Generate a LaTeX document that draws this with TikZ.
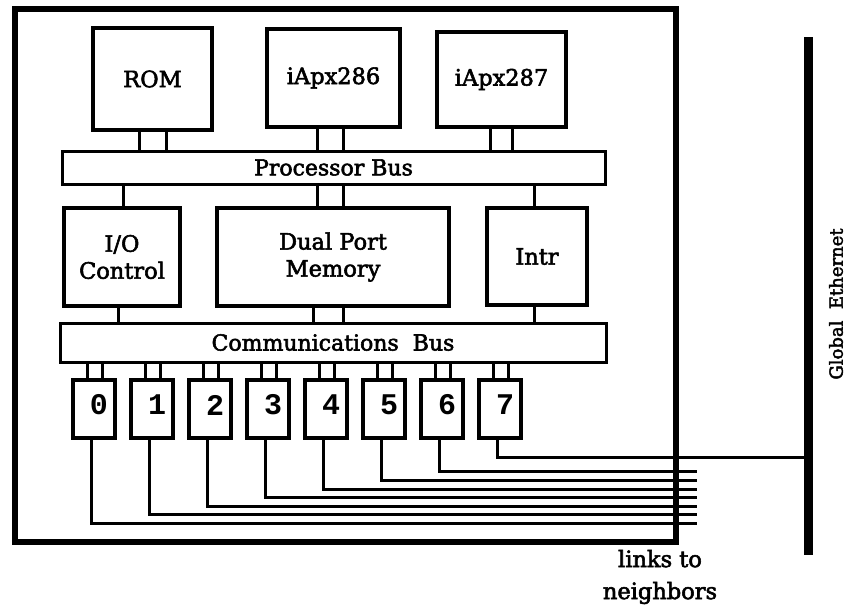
\documentclass[tikz,border=0pt]{standalone}
\usepackage{fontspec}
\setmainfont{DejaVu Serif}[UprightFeatures={FakeBold=2.5}]
\newfontfamily\digitfont{Liberation Mono}
\begin{document}
\begin{tikzpicture}[x=1pt,y=-1pt,
  blk/.style={draw,line width=4.5pt,inner sep=0pt,outer sep=0pt,align=center,font=\fontsize{22.5}{27}\selectfont},
  busbox/.style={draw,line width=3pt,inner sep=0pt,outer sep=0pt,font=\fontsize{22}{27}\selectfont},
  lnk/.style={draw,line width=3.5pt,minimum width=42pt,minimum height=58pt,inner sep=0pt,outer sep=0pt},
  num/.style={font=\digitfont\bfseries\fontsize{30}{30}\selectfont,inner sep=0pt},
  wire/.style={line width=3pt},
]
\useasboundingbox (0,0) rectangle (848,605);
% outer board
\node[draw,line width=5.5pt,minimum width=661pt,minimum height=533pt,inner sep=0pt,outer sep=0pt] (board) at (345.5,275.5) {};
% top row
\node[blk,minimum width=119pt,minimum height=102pt] (rom) at (152.5,79) {ROM};
\node[blk,minimum width=133pt,minimum height=98pt] (cpu) at (333.5,78) {iApx286};
\node[blk,minimum width=129pt,minimum height=95pt] (fpu) at (501.5,79.5) {iApx287};
% processor bus
\node[busbox,minimum width=543pt,minimum height=33pt] (pbus) at (333.5,167.5) {Processor Bus};
% middle row
\node[blk,minimum width=116pt,minimum height=98pt] (io) at (122,257) {I/O\\Control};
\node[blk,minimum width=232pt,minimum height=98pt] (dpm) at (333,257) {Dual Port\\Memory};
\node[blk,minimum width=100pt,minimum height=97pt] (intr) at (537,256.5) {Intr};
% communications bus
\node[busbox,minimum width=546pt,minimum height=39pt] (cbus) at (333,342.5) {Communications\ \ Bus};
% top row to processor bus
\draw[wire] ([xshift=-13pt]rom.south) -- ([xshift=-13pt]rom.south |- pbus.north);
\draw[wire] ([xshift=14pt]rom.south) -- ([xshift=14pt]rom.south |- pbus.north);
\draw[wire] ([xshift=-16pt]cpu.south) -- ([xshift=-16pt]cpu.south |- pbus.north);
\draw[wire] ([xshift=10pt]cpu.south) -- ([xshift=10pt]cpu.south |- pbus.north);
\draw[wire] ([xshift=-11pt]fpu.south) -- ([xshift=-11pt]fpu.south |- pbus.north);
\draw[wire] ([xshift=11pt]fpu.south) -- ([xshift=11pt]fpu.south |- pbus.north);
% processor bus to middle row
\draw[wire] ([xshift=1pt]io.north) -- ([xshift=1pt]io.north |- pbus.south);
\draw[wire] ([xshift=-16pt]dpm.north) -- ([xshift=-16pt]dpm.north |- pbus.south);
\draw[wire] ([xshift=10pt]dpm.north) -- ([xshift=10pt]dpm.north |- pbus.south);
\draw[wire] ([xshift=-3pt]intr.north) -- ([xshift=-3pt]intr.north |- pbus.south);
% middle row to communications bus
\draw[wire] ([xshift=-4pt]io.south) -- ([xshift=-4pt]io.south |- cbus.north);
\draw[wire] ([xshift=-20pt]dpm.south) -- ([xshift=-20pt]dpm.south |- cbus.north);
\draw[wire] ([xshift=10pt]dpm.south) -- ([xshift=10pt]dpm.south |- cbus.north);
\draw[wire] ([xshift=-3pt]intr.south) -- ([xshift=-3pt]intr.south |- cbus.north);
% link boxes
\foreach \i in {0,...,7}{
  \node[lnk] (l\i) at ({94+58*\i},409) {};
  \node[num] (n\i) at ([xshift=5pt,yshift=4pt]l\i.center) {\i};
  \draw[wire] ([xshift=-7pt]l\i.north) -- ([xshift=-7pt]l\i.north |- cbus.south);
  \draw[wire] ([xshift=8pt]l\i.north) -- ([xshift=8pt]l\i.north |- cbus.south);
}
% Ethernet
\coordinate (ethT) at (808,37);
\coordinate (ethB) at (808,555);
\draw[line width=9pt] (ethT) -- (ethB);
\node[rotate=90,font=\fontsize{18}{18}\selectfont,inner sep=0pt] (ethlbl) at (836,304) {Global\ \ Ethernet};
% links to neighbors
\foreach \i/\yy in {0/523,1/514,2/506,3/497,4/489,5/480,6/471}{
  \coordinate (e\i) at (697,\yy);
  \draw[wire] ([xshift=-3pt]l\i.south) |- (e\i);
}
\coordinate (e7) at (808,457);
\draw[wire] ([xshift=-3pt]l7.south) |- (e7);
\node[align=center,font=\fontsize{22.5}{32}\selectfont,inner sep=0pt] (lnlbl) at (660,577) {links to\\neighbors};
\end{tikzpicture}
\end{document}
